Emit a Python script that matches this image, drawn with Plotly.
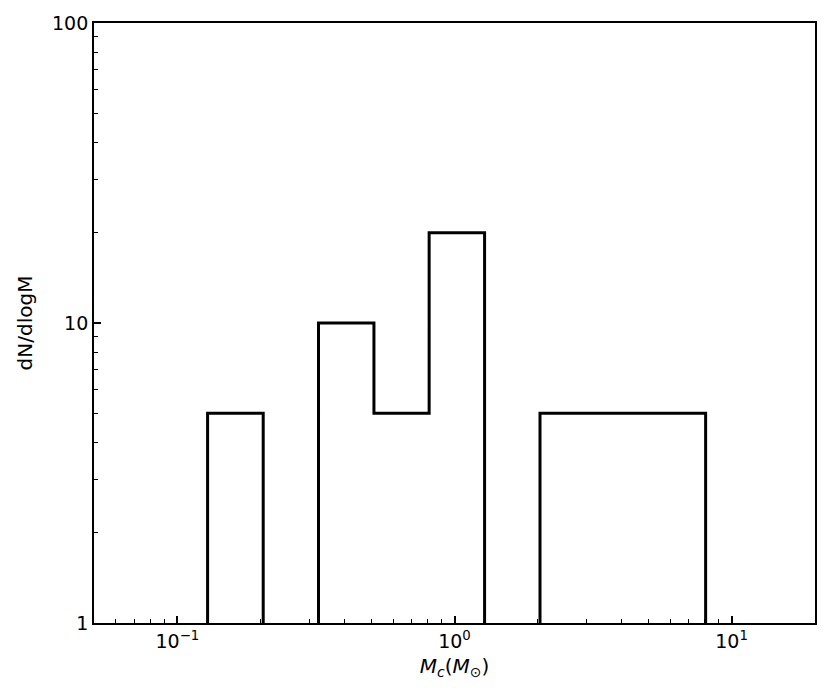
import numpy as np
import plotly.graph_objects as go

# Bin edges (M_sun) and dN/dlogM values per bin
bin_edges = [0.1285, 0.204, 0.323, 0.512, 0.81, 1.284, 2.035, 3.22, 5.1, 8.06]
dn_dlogm = [5, 0, 10, 5, 20, 0, 5, 5, 5]

x_tick_vals = [0.1, 1, 10]
x_tick_text = ["10<sup>\u22121</sup>", "10<sup>0</sup>", "10<sup>1</sup>"]
y_tick_vals = [1, 10, 100]
y_tick_text = ["1", "10", "100"]

# step outline; zero bins drop to the axis floor and are not drawn along it
y_floor = 1
xs, ys = [bin_edges[0]], [y_floor]
for i, v in enumerate(dn_dlogm):
    if v > 0:
        xs += [bin_edges[i], bin_edges[i + 1]]
        ys += [v, v]
    else:
        xs += [bin_edges[i], None, bin_edges[i + 1]]
        ys += [y_floor, None, y_floor]
xs.append(bin_edges[-1])
ys.append(y_floor)

fig = go.Figure()
fig.add_trace(go.Scatter(x=xs, y=ys, mode="lines", connectgaps=False,
                         line=dict(color="black", width=3),
                         showlegend=False, hoverinfo="skip"))

x_minor = [m * 10.0 ** d for d in range(-2, 2) for m in range(2, 10)]
x_minor = [v for v in x_minor if 0.05 <= v <= 20]
y_minor = [m * 10.0 ** d for d in range(0, 2) for m in range(2, 10)]

tick_font = dict(family="DejaVu Sans", size=19, color="black")
title_font = dict(family="DejaVu Sans", size=20, color="black")
fig.update_layout(
    width=831, height=699,
    margin=dict(l=86, r=24, t=15, b=84),
    plot_bgcolor="white", paper_bgcolor="white",
    font=tick_font,
    xaxis=dict(type="log", range=[np.log10(0.05), np.log10(20)], automargin=False,
               tickmode="array", tickvals=x_tick_vals, ticktext=x_tick_text,
               tickfont=tick_font,
               ticks="inside", ticklen=7, tickwidth=1.5, tickcolor="black",
               showline=True, linecolor="black", linewidth=1.8, mirror=True,
               showgrid=False, zeroline=False,
               minor=dict(tickmode="array", tickvals=x_minor, ticks="inside",
                          ticklen=4, tickwidth=1.2, tickcolor="black", showgrid=False),
               title=dict(text="<i>M</i><sub><i>c</i></sub>(<i>M</i><sub>\u2299</sub>)",
                          font=title_font, standoff=8)),
    yaxis=dict(type="log", range=[0, 2], automargin=False,
               tickmode="array", tickvals=y_tick_vals, ticktext=y_tick_text,
               tickfont=tick_font,
               ticks="inside", ticklen=7, tickwidth=1.5, tickcolor="black",
               showline=True, linecolor="black", linewidth=1.8, mirror=True,
               showgrid=False, zeroline=False,
               minor=dict(tickmode="array", tickvals=y_minor, ticks="inside",
                          ticklen=4, tickwidth=1.2, tickcolor="black", showgrid=False),
               title=dict(text="dN/dlogM", font=title_font, standoff=14)),
)

fig.write_html("out.html")
